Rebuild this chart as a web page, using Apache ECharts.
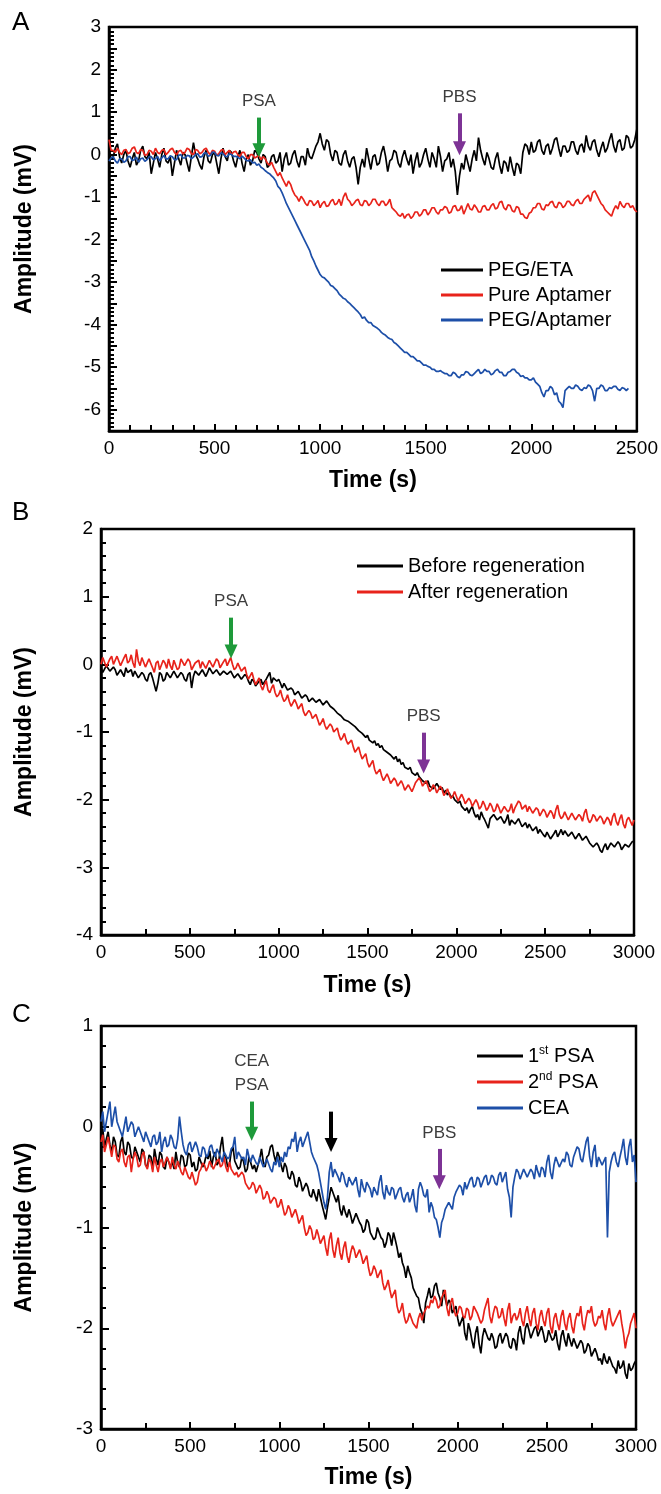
<!DOCTYPE html>
<html>
<head>
<meta charset="utf-8">
<script src="https://cdn.jsdelivr.net/npm/echarts@6/dist/echarts.min.js"></script>
<style>
  html, body { margin: 0; padding: 0; background: #fff; }
  #chart { width: 661px; height: 1494px; }
</style>
</head>
<body>
<div id="chart"></div>
<script>
// ---- Panel A: sensor response, 10 s sampling (one row = 200 s) ----
const stepA = 10;
const ampA_pegEta = [
  0.12, -0.1, -0.05, 0.15, 0.25, -0.05, -0.2, 0.0, 0.1, -0.15, -0.3, -0.1, 0.05, -0.25, -0.15, 0.1, 0.2, -0.05, -0.1, 0.05,
  -0.45, -0.2, 0.05, -0.1, -0.3, 0.0, 0.15, -0.15, -0.2, -0.05, -0.5, -0.2, 0.1, -0.1, -0.25, 0.05, 0.0, -0.2, -0.4, -0.05,
  0.28, 0.0, -0.1, -0.25, -0.35, -0.05, 0.1, -0.15, -0.2, 0.0, 0.05, -0.2, -0.45, -0.1, 0.15, -0.05, -0.15, 0.1, 0.05, -0.15,
  -0.3, -0.05, 0.1, -0.2, -0.4, -0.1, 0.0, -0.25, -0.15, 0.1, 0.05, -0.1, -0.2, 0.0, -0.05, -0.3, -0.25, -0.05, 0.0, -0.2,
  -0.15, 0.05, -0.4, -0.1, 0.05, -0.25, -0.2, 0.0, 0.1, -0.15, -0.3, -0.05, -0.05, -0.25, 0.15, -0.05, -0.1, 0.05, 0.2, 0.3,
  0.5, 0.25, 0.1, 0.35, 0.3, 0.0, -0.15, 0.1, 0.05, -0.2, -0.25, 0.0, 0.1, -0.15, -0.3, -0.1, -0.05, -0.3, -0.7, -0.3,
  -0.1, -0.3, 0.15, -0.1, -0.35, -0.05, 0.0, -0.25, -0.2, 0.05, 0.2, -0.05, -0.4, -0.15, -0.1, 0.1, 0.05, -0.2, -0.3, -0.05,
  0.1, -0.1, -0.25, 0.0, -0.45, -0.15, 0.05, -0.3, -0.2, 0.0, 0.15, -0.1, -0.3, 0.05, -0.1, -0.3, 0.2, -0.05, -0.4, -0.15,
  -0.1, 0.05, -0.3, -0.1, -0.4, -0.95, -0.5, -0.2, -0.35, 0.0, -0.2, -0.4, -0.1, 0.1, -0.15, 0.4, 0.1, -0.1, -0.25, 0.05,
  -0.1, -0.3, -0.35, -0.1, 0.05, -0.25, -0.45, -0.15, -0.2, -0.4, -0.05, -0.3, -0.5, -0.2, -0.25, -0.45, 0.05, 0.25, 0.2, 0.0,
  0.3, 0.05, 0.1, 0.3, 0.35, 0.1, 0.0, 0.2, 0.25, 0.0, 0.15, 0.35, 0.4, 0.15, -0.05, 0.2, 0.2, 0.05, 0.1, 0.3,
  0.3, 0.1, 0.0, 0.2, 0.25, 0.05, 0.45, 0.2, 0.1, 0.3, 0.35, 0.1, -0.05, 0.15, 0.3, 0.05, 0.15, 0.35, 0.5, 0.2,
  0.05, 0.3, 0.35, 0.1, 0.15, 0.45, 0.4, 0.15, 0.2, 0.35, 0.6
];
const ampA_pureApt = [
  0.35, 0.1, 0.1, 0.05, 0.15, 0.05, 0.0, 0.1, 0.12, 0.02, 0.05, 0.15, 0.18, 0.05, 0.02, 0.12, 0.1, -0.02, 0.0, 0.1,
  0.08, 0.0, 0.15, 0.05, 0.02, 0.1, 0.12, 0.0, 0.05, 0.12, 0.15, 0.05, 0.0, 0.08, 0.1, 0.02, 0.05, 0.15, 0.12, 0.02,
  0.0, 0.12, 0.1, 0.02, 0.05, 0.12, 0.15, 0.05, 0.0, 0.1, 0.08, -0.02, 0.02, 0.1, 0.12, 0.0, 0.05, 0.1, 0.0, 0.06,
  0.08, 0.0, -0.05, 0.05, 0.05, -0.05, -0.1, 0.0, 0.0, -0.08, -0.05, -0.02, -0.12, -0.05, -0.1, -0.2, -0.25, -0.18, -0.3, -0.4,
  -0.5, -0.42, -0.55, -0.65, -0.75, -0.62, -0.7, -0.85, -0.95, -1.0, -1.1, -0.98, -1.05, -1.15, -1.2, -1.08, -1.1, -1.2, -1.15, -1.08,
  -1.25, -1.15, -1.1, -1.22, -1.2, -1.1, -1.05, -1.18, -1.15, -1.05, -1.2, -1.0, -0.9, -1.05, -1.1, -1.2, -1.15, -1.08, -1.05, -1.18,
  -1.2, -1.08, -1.1, -1.2, -1.15, -1.05, -1.05, -1.15, -1.2, -1.1, -1.1, -1.2, -1.15, -1.05, -1.25, -1.3, -1.35, -1.42, -1.45, -1.38,
  -1.5, -1.42, -1.4, -1.5, -1.45, -1.35, -1.35, -1.45, -1.4, -1.3, -1.3, -1.42, -1.35, -1.25, -1.25, -1.35, -1.4, -1.3, -1.3, -1.22,
  -1.25, -1.38, -1.35, -1.22, -1.2, -1.32, -1.3, -1.2, -1.4, -1.28, -1.15, -1.28, -1.3, -1.18, -1.25, -1.35, -1.35, -1.22, -1.2, -1.3,
  -1.3, -1.2, -1.15, -1.28, -1.25, -1.12, -1.1, -1.25, -1.3, -1.18, -1.2, -1.32, -1.35, -1.22, -1.25, -1.4, -1.4, -1.48, -1.5, -1.38,
  -1.35, -1.25, -1.25, -1.15, -1.15, -1.28, -1.3, -1.18, -1.2, -1.12, -1.1, -1.22, -1.25, -1.12, -1.15, -1.25, -1.2, -1.1, -1.1, -1.18,
  -1.2, -1.1, -1.05, -1.15, -1.15, -1.05, -1.0, -0.95, -1.1, -0.9, -0.85, -0.95, -1.05, -1.15, -1.2, -1.3, -1.35, -1.4, -1.45, -1.3,
  -1.2, -1.28, -1.1, -1.2, -1.25, -1.15, -1.15, -1.25, -1.2, -1.3, -1.35
];
const ampA_pegApt = [
  -0.15, -0.08, -0.05, -0.15, -0.2, -0.1, -0.1, -0.18, -0.15, -0.05, -0.05, -0.14, -0.12, -0.06, -0.18, -0.1, -0.08, -0.16, -0.12, -0.05,
  -0.05, -0.12, -0.1, -0.04, -0.15, -0.08, -0.02, -0.1, -0.1, -0.03, -0.05, -0.12, -0.12, -0.02, 0.0, -0.08, -0.08, -0.02, -0.03, -0.1,
  -0.06, 0.0, 0.02, -0.06, -0.05, 0.03, 0.04, -0.04, -0.02, 0.06, 0.05, -0.02, -0.03, 0.04, 0.02, -0.04, -0.05, 0.02, 0.0, -0.04,
  -0.04, -0.06, -0.1, -0.04, -0.08, -0.14, -0.15, -0.12, -0.2, -0.18, -0.25, -0.22, -0.3, -0.33, -0.38, -0.42, -0.45, -0.5, -0.55, -0.62,
  -0.75, -0.8, -0.9, -1.02, -1.15, -1.25, -1.35, -1.45, -1.55, -1.65, -1.75, -1.85, -1.95, -2.05, -2.15, -2.25, -2.4, -2.5, -2.62, -2.72,
  -2.82, -2.88, -2.9, -2.95, -3.0, -3.08, -3.1, -3.15, -3.2, -3.28, -3.33, -3.38, -3.4, -3.46, -3.5, -3.55, -3.6, -3.65, -3.7, -3.76,
  -3.85, -3.82, -3.9, -3.95, -3.95, -4.02, -4.05, -4.08, -4.12, -4.18, -4.22, -4.25, -4.3, -4.33, -4.35, -4.42, -4.45, -4.5, -4.55, -4.6,
  -4.65, -4.65, -4.7, -4.75, -4.75, -4.8, -4.85, -4.85, -4.9, -4.95, -4.95, -4.98, -5.0, -5.05, -5.05, -5.1, -5.1, -5.08, -5.12, -5.15,
  -5.15, -5.2, -5.2, -5.12, -5.15, -5.22, -5.25, -5.18, -5.18, -5.1, -5.12, -5.18, -5.2, -5.15, -5.1, -5.05, -5.15, -5.12, -5.05, -5.1,
  -5.1, -5.18, -5.15, -5.08, -5.05, -5.12, -5.12, -5.2, -5.2, -5.12, -5.1, -5.05, -5.05, -5.12, -5.15, -5.22, -5.2, -5.25, -5.25, -5.3,
  -5.3, -5.25, -5.35, -5.4, -5.45, -5.6, -5.7, -5.55, -5.55, -5.45, -5.5, -5.65, -5.6, -5.8, -5.85, -5.95, -5.55, -5.5, -5.45, -5.5,
  -5.5, -5.42, -5.45, -5.52, -5.55, -5.48, -5.5, -5.42, -5.45, -5.55, -5.8, -5.5, -5.5, -5.42, -5.45, -5.55, -5.55, -5.48, -5.5, -5.45,
  -5.45, -5.52, -5.55, -5.48, -5.5, -5.55, -5.5
];

// ---- Panel B: before / after regeneration, 10 s sampling ----
const stepB = 10;
const ampB_before = [
  -0.05, -0.12, -0.1, -0.02, 0.0, -0.1, -0.12, -0.04, -0.08, -0.16, -0.15, -0.08, -0.1, -0.18, -0.05, -0.12, -0.14, -0.08, -0.18, -0.1,
  -0.1, -0.2, -0.22, -0.12, -0.15, -0.22, -0.25, -0.15, -0.12, -0.2, -0.2, -0.4, -0.28, -0.12, -0.15, -0.25, -0.22, -0.12, -0.12, -0.2,
  -0.18, -0.1, -0.1, -0.2, -0.2, -0.12, -0.15, -0.22, -0.25, -0.15, -0.12, -0.35, -0.18, -0.1, -0.08, -0.16, -0.15, -0.08, -0.1, -0.18,
  -0.12, -0.05, -0.06, -0.14, -0.15, -0.08, -0.1, -0.16, -0.18, -0.1, -0.08, -0.15, -0.15, -0.1, -0.12, -0.2, -0.2, -0.14, -0.15, -0.22,
  -0.22, -0.15, -0.18, -0.25, -0.3, -0.22, -0.25, -0.32, -0.32, -0.25, -0.22, -0.3, -0.3, -0.22, -0.2, -0.12, -0.28, -0.2, -0.18, -0.25,
  -0.22, -0.28, -0.35, -0.28, -0.3, -0.38, -0.4, -0.35, -0.38, -0.45, -0.45, -0.4, -0.42, -0.5, -0.5, -0.45, -0.48, -0.55, -0.55, -0.5,
  -0.5, -0.56, -0.58, -0.52, -0.52, -0.6, -0.6, -0.54, -0.55, -0.62, -0.62, -0.66, -0.68, -0.72, -0.72, -0.76, -0.78, -0.82, -0.8, -0.84,
  -0.82, -0.88, -0.86, -0.92, -0.9, -0.98, -0.96, -1.02, -1.0, -1.08, -1.05, -1.12, -1.1, -1.16, -1.13, -1.2, -1.17, -1.23, -1.2, -1.26,
  -1.25, -1.3, -1.28, -1.34, -1.32, -1.4, -1.36, -1.44, -1.4, -1.48, -1.45, -1.52, -1.5, -1.55, -1.52, -1.6, -1.58, -1.64, -1.6, -1.66,
  -1.65, -1.72, -1.7, -1.76, -1.72, -1.8, -1.78, -1.84, -1.8, -1.76, -1.78, -1.85, -1.82, -1.9, -1.86, -1.93, -1.9, -1.97, -1.94, -2.0,
  -1.98, -2.05, -2.02, -2.1, -2.08, -2.16, -2.12, -2.2, -2.14, -2.1, -2.2, -2.26, -2.22, -2.3, -2.18, -2.25, -2.3, -2.36, -2.42, -2.28,
  -2.28, -2.22, -2.2, -2.3, -2.32, -2.25, -2.25, -2.35, -2.3, -2.22, -2.38, -2.3, -2.28, -2.36, -2.35, -2.28, -2.3, -2.4, -2.4, -2.34,
  -2.42, -2.36, -2.38, -2.46, -2.45, -2.4, -2.5, -2.44, -2.42, -2.52, -2.55, -2.48, -2.48, -2.58, -2.6, -2.5, -2.45, -2.55, -2.5, -2.44,
  -2.52, -2.46, -2.45, -2.54, -2.55, -2.48, -2.5, -2.58, -2.58, -2.5, -2.52, -2.6, -2.6, -2.54, -2.55, -2.64, -2.62, -2.7, -2.7, -2.64,
  -2.68, -2.75, -2.78, -2.7, -2.65, -2.74, -2.72, -2.64, -2.62, -2.7, -2.7, -2.62, -2.66, -2.74, -2.74, -2.66, -2.64, -2.7, -2.68, -2.62,
  -2.62
];
const ampB_after = [
  0.0, 0.1, 0.08, -0.04, -0.05, 0.08, 0.12, 0.0, 0.02, 0.12, 0.1, -0.02, -0.02, 0.1, 0.15, 0.02, 0.05, 0.14, 0.02, -0.05,
  0.22, 0.05, -0.02, 0.1, 0.1, -0.04, -0.05, 0.08, 0.08, -0.05, -0.12, 0.02, 0.05, -0.08, -0.1, 0.06, 0.02, -0.06, 0.08, -0.02,
  -0.08, 0.06, 0.05, -0.08, -0.05, 0.08, 0.1, -0.02, -0.02, 0.08, 0.04, -0.08, -0.1, 0.02, 0.0, 0.06, -0.06, 0.04, 0.02, -0.06,
  -0.04, 0.06, 0.06, -0.04, -0.02, 0.08, 0.05, -0.05, -0.06, 0.04, 0.08, -0.02, -0.02, 0.1, 0.0, -0.08, -0.05, 0.02, -0.04, -0.1,
  -0.1, -0.04, -0.15, -0.22, -0.2, -0.12, -0.22, -0.3, -0.28, -0.2, -0.32, -0.38, -0.3, -0.24, -0.38, -0.42, -0.35, -0.3, -0.42, -0.48,
  -0.45, -0.38, -0.48, -0.55, -0.52, -0.45, -0.55, -0.62, -0.6, -0.52, -0.58, -0.66, -0.65, -0.58, -0.7, -0.76, -0.75, -0.68, -0.72, -0.8,
  -0.8, -0.74, -0.82, -0.9, -0.86, -0.8, -0.9, -0.96, -0.95, -0.88, -0.92, -1.0, -1.0, -0.94, -1.05, -1.12, -1.08, -1.02, -1.12, -1.18,
  -1.18, -1.12, -1.22, -1.3, -1.28, -1.22, -1.32, -1.4, -1.38, -1.32, -1.45, -1.52, -1.5, -1.42, -1.55, -1.62, -1.62, -1.55, -1.65, -1.72,
  -1.7, -1.62, -1.68, -1.76, -1.75, -1.68, -1.72, -1.8, -1.8, -1.72, -1.78, -1.86, -1.85, -1.78, -1.8, -1.88, -1.82, -1.75, -1.75, -1.68,
  -1.72, -1.8, -1.78, -1.72, -1.8, -1.88, -1.85, -1.78, -1.82, -1.9, -1.88, -1.8, -1.85, -1.94, -1.9, -1.84, -1.92, -1.98, -1.95, -1.88,
  -1.95, -2.02, -2.0, -1.92, -1.98, -2.06, -2.05, -1.98, -2.02, -2.1, -2.08, -2.0, -2.05, -2.14, -2.1, -2.02, -2.08, -2.16, -2.12, -2.05,
  -2.1, -2.18, -2.15, -2.06, -2.12, -2.2, -2.18, -2.1, -2.1, -2.18, -2.15, -2.06, -2.2, -2.12, -2.12, -2.02, -2.05, -2.14, -2.15, -2.08,
  -2.18, -2.1, -2.1, -2.2, -2.2, -2.12, -2.15, -2.24, -2.22, -2.14, -2.18, -2.26, -2.25, -2.16, -2.2, -2.28, -2.15, -2.08, -2.22, -2.28,
  -2.25, -2.18, -2.2, -2.3, -2.28, -2.2, -2.22, -2.3, -2.3, -2.22, -2.25, -2.32, -2.2, -2.14, -2.28, -2.34, -2.3, -2.22, -2.25, -2.32,
  -2.3, -2.24, -2.28, -2.36, -2.35, -2.26, -2.3, -2.38, -2.25, -2.2, -2.32, -2.38, -2.28, -2.22, -2.36, -2.42, -2.3, -2.26, -2.32, -2.38,
  -2.3
];

// ---- Panel C: selectivity test, 10 s sampling ----
const stepC = 10;
const ampC_psa1 = [
  -0.1, -0.02, -0.2, -0.12, -0.05, -0.18, -0.25, -0.1, -0.15, -0.28, -0.3, -0.15, -0.1, -0.25, -0.28, -0.15, -0.18, -0.3, -0.32, -0.2,
  -0.2, -0.3, -0.35, -0.22, -0.25, -0.38, -0.4, -0.28, -0.3, -0.42, -0.22, -0.32, -0.38, -0.25, -0.28, -0.4, -0.42, -0.3, -0.3, -0.4,
  -0.35, -0.42, -0.25, -0.36, -0.4, -0.28, -0.3, -0.4, -0.38, -0.26, -0.28, -0.4, -0.35, -0.44, -0.42, -0.3, -0.3, -0.4, -0.36, -0.28,
  -0.32, -0.24, -0.4, -0.3, -0.25, -0.38, -0.35, -0.2, -0.1, -0.28, -0.3, -0.4, -0.38, -0.25, -0.2, -0.34, -0.35, -0.42, -0.4, -0.3,
  -0.35, -0.45, -0.42, -0.3, -0.3, -0.42, -0.38, -0.45, -0.45, -0.32, -0.22, -0.35, -0.4, -0.3, -0.28, -0.2, -0.18, -0.28, -0.35, -0.25,
  -0.3, -0.38, -0.45, -0.36, -0.4, -0.5, -0.52, -0.44, -0.48, -0.58, -0.6, -0.5, -0.55, -0.64, -0.65, -0.56, -0.6, -0.68, -0.7, -0.62,
  -0.68, -0.74, -0.62, -0.7, -0.78, -0.85, -0.92, -0.8, -0.7, -0.6, -0.6, -0.7, -0.75, -0.68, -0.82, -0.88, -0.78, -0.85, -0.9, -0.82,
  -0.88, -0.96, -0.95, -0.86, -0.85, -0.95, -0.98, -1.05, -1.02, -0.92, -0.95, -1.05, -1.05, -1.12, -1.1, -1.0, -1.0, -1.1, -1.12, -1.2,
  -1.15, -1.05, -1.08, -1.18, -1.05, -1.12, -1.2, -1.3, -1.25, -1.35, -1.4, -1.5, -1.38, -1.45, -1.5, -1.6, -1.6, -1.68, -1.7, -1.8,
  -1.85, -1.95, -1.75, -1.68, -1.6, -1.7, -1.68, -1.58, -1.55, -1.65, -1.7, -1.78, -1.62, -1.7, -1.78, -1.72, -1.75, -1.85, -1.85, -1.78,
  -1.9, -1.98, -1.98, -1.88, -2.05, -2.12, -1.95, -2.02, -2.12, -2.2, -2.05, -1.98, -2.15, -2.25, -2.08, -2.0, -2.0, -2.1, -2.12, -2.05,
  -2.1, -2.2, -2.18, -2.08, -2.05, -2.15, -2.15, -2.05, -2.08, -2.18, -2.2, -2.1, -2.12, -2.22, -2.05, -1.98, -2.1, -2.16, -2.0, -1.95,
  -2.02, -2.1, -2.1, -2.0, -1.98, -2.08, -2.08, -1.98, -2.05, -2.14, -2.12, -2.02, -2.02, -2.12, -2.1, -2.02, -2.15, -2.22, -2.08, -2.02,
  -2.12, -2.18, -2.05, -2.12, -2.18, -2.1, -2.1, -2.2, -2.2, -2.12, -2.15, -2.25, -2.22, -2.15, -2.18, -2.28, -2.28, -2.2, -2.25, -2.32,
  -2.3, -2.36, -2.25, -2.32, -2.35, -2.28, -2.28, -2.38, -2.4, -2.45, -2.32, -2.4, -2.38, -2.32, -2.45, -2.5, -2.35, -2.42, -2.4, -2.35,
  -2.32
];
const ampC_psa2 = [
  -0.15, -0.08, -0.25, -0.18, -0.1, -0.2, -0.3, -0.18, -0.2, -0.32, -0.35, -0.25, -0.22, -0.35, -0.4, -0.3, -0.28, -0.45, -0.32, -0.25,
  -0.3, -0.4, -0.38, -0.28, -0.25, -0.38, -0.42, -0.32, -0.35, -0.45, -0.3, -0.38, -0.45, -0.35, -0.32, -0.4, -0.4, -0.3, -0.35, -0.42,
  -0.3, -0.38, -0.42, -0.34, -0.35, -0.45, -0.48, -0.4, -0.4, -0.5, -0.52, -0.45, -0.45, -0.58, -0.55, -0.45, -0.42, -0.36, -0.38, -0.44,
  -0.4, -0.34, -0.35, -0.42, -0.42, -0.34, -0.32, -0.4, -0.38, -0.3, -0.4, -0.45, -0.35, -0.42, -0.42, -0.48, -0.45, -0.5, -0.5, -0.45,
  -0.48, -0.56, -0.55, -0.62, -0.6, -0.55, -0.58, -0.66, -0.65, -0.58, -0.62, -0.72, -0.7, -0.64, -0.68, -0.76, -0.75, -0.7, -0.72, -0.8,
  -0.78, -0.72, -0.8, -0.88, -0.85, -0.78, -0.82, -0.9, -0.9, -0.82, -0.88, -0.96, -0.95, -0.88, -1.0, -1.08, -1.05, -0.98, -1.02, -1.12,
  -1.1, -1.02, -1.08, -1.16, -1.15, -1.08, -1.2, -1.28, -1.12, -1.05, -1.22, -1.3, -1.18, -1.1, -1.25, -1.32, -1.2, -1.14, -1.28, -1.35,
  -1.25, -1.18, -1.22, -1.3, -1.3, -1.22, -1.28, -1.36, -1.35, -1.28, -1.4, -1.48, -1.45, -1.38, -1.42, -1.5, -1.5, -1.42, -1.55, -1.62,
  -1.58, -1.52, -1.62, -1.7, -1.7, -1.62, -1.78, -1.85, -1.82, -1.75, -1.88, -1.95, -1.92, -1.85, -1.85, -1.95, -1.95, -2.0, -1.9, -1.85,
  -1.92, -1.85, -1.85, -1.78, -1.8, -1.72, -1.75, -1.68, -1.72, -1.8, -1.78, -1.7, -1.7, -1.62, -1.8, -1.88, -1.75, -1.7, -1.82, -1.88,
  -1.85, -1.78, -1.8, -1.88, -1.9, -1.8, -1.82, -1.92, -1.88, -1.78, -1.78, -1.85, -1.85, -1.95, -1.92, -1.82, -1.82, -1.7, -1.88, -1.95,
  -1.85, -1.78, -1.8, -1.9, -1.88, -1.8, -1.9, -1.98, -1.82, -1.75, -1.95, -1.88, -1.85, -1.92, -1.88, -1.8, -1.92, -1.98, -1.85, -1.78,
  -1.9, -1.98, -1.85, -1.8, -1.95, -2.02, -1.88, -1.82, -1.92, -1.98, -1.85, -1.8, -1.98, -2.05, -1.9, -1.85, -1.95, -2.02, -1.88, -1.82,
  -1.95, -2.02, -1.9, -1.85, -1.98, -2.05, -1.92, -1.85, -1.88, -1.78, -1.95, -2.02, -1.9, -1.82, -1.85, -1.78, -1.92, -1.98, -1.95, -1.88,
  -1.9, -1.82, -1.95, -2.02, -1.88, -1.8, -1.92, -1.98, -1.98, -1.9, -1.9, -1.82, -1.95, -2.05, -2.2, -2.1, -2.05, -1.95, -1.9, -1.85,
  -2.0
];
const ampC_cea = [
  0.05, 0.15, -0.05, 0.05, 0.15, 0.25, 0.0, 0.1, 0.2, 0.05, 0.05, -0.05, -0.1, 0.0, 0.1, -0.05, -0.05, 0.05, 0.02, -0.1,
  -0.1, 0.0, 0.0, -0.1, -0.15, -0.05, -0.05, -0.15, -0.2, -0.1, -0.08, -0.18, -0.15, -0.05, -0.25, -0.15, -0.1, -0.2, -0.18, -0.08,
  -0.12, -0.2, -0.22, -0.12, 0.1, -0.05, -0.18, -0.25, -0.28, -0.18, -0.15, -0.25, -0.25, -0.15, -0.2, -0.28, -0.3, -0.2, -0.22, -0.3,
  -0.28, -0.2, -0.18, -0.26, -0.3, -0.22, -0.22, -0.3, -0.35, -0.25, -0.25, -0.32, -0.3, -0.22, -0.2, -0.1, -0.32, -0.25, -0.25, -0.32,
  -0.3, -0.38, -0.22, -0.3, -0.35, -0.28, -0.28, -0.36, -0.38, -0.3, -0.3, -0.4, -0.4, -0.32, -0.32, -0.42, -0.45, -0.35, -0.38, -0.3,
  -0.4, -0.3, -0.35, -0.25, -0.3, -0.2, -0.22, -0.12, -0.15, -0.05, -0.25, -0.15, -0.1, -0.2, -0.2, -0.1, -0.05, -0.15, -0.25, -0.3,
  -0.3, -0.38, -0.45, -0.55, -0.65, -0.75, -0.82, -0.7, -0.45, -0.35, -0.5, -0.42, -0.42, -0.5, -0.55, -0.45, -0.48, -0.56, -0.6, -0.5,
  -0.5, -0.58, -0.58, -0.5, -0.62, -0.7, -0.52, -0.6, -0.65, -0.55, -0.55, -0.62, -0.7, -0.6, -0.6, -0.68, -0.55, -0.48, -0.65, -0.72,
  -0.58, -0.65, -0.68, -0.6, -0.62, -0.72, -0.72, -0.62, -0.6, -0.7, -0.75, -0.68, -0.65, -0.75, -0.7, -0.62, -0.78, -0.85, -0.62, -0.55,
  -0.6, -0.68, -0.7, -0.62, -0.85, -0.75, -0.8, -0.9, -0.92, -1.0, -1.1, -0.95, -0.9, -0.82, -0.82, -0.75, -0.75, -0.82, -0.7, -0.65,
  -0.65, -0.58, -0.6, -0.68, -0.55, -0.62, -0.62, -0.52, -0.5, -0.6, -0.58, -0.5, -0.52, -0.6, -0.6, -0.5, -0.48, -0.58, -0.55, -0.48,
  -0.5, -0.56, -0.58, -0.48, -0.45, -0.55, -0.55, -0.45, -0.62, -0.7, -0.9, -0.6, -0.5, -0.42, -0.45, -0.52, -0.52, -0.42, -0.42, -0.5,
  -0.5, -0.42, -0.45, -0.52, -0.38, -0.45, -0.5, -0.4, -0.42, -0.5, -0.35, -0.28, -0.45, -0.52, -0.38, -0.3, -0.3, -0.4, -0.4, -0.32,
  -0.35, -0.25, -0.28, -0.38, -0.4, -0.3, -0.3, -0.2, -0.22, -0.32, -0.35, -0.25, -0.15, -0.1, -0.3, -0.4, -0.25, -0.18, -0.4, -0.3,
  -0.3, -0.38, -0.38, -0.3, -1.1, -0.45, -0.35, -0.28, -0.25, -0.35, -0.4, -0.3, -0.22, -0.12, -0.3, -0.38, -0.2, -0.12, -0.35, -0.28,
  -0.55
];

// Axis ranges
const xMaxA = 2500;
const xMaxBC = 3000;
const yRangeA = [-6.5, 3];
const yRangeB = [-4, 2];
const yRangeC = [-3, 1];

const FONT = '"Liberation Sans", Arial, Helvetica, sans-serif';
const BLACK = '#000000', RED = '#e8231b', BLUE = '#1d4fa8';
const GREEN = '#1e9a3a', PURPLE = '#7d3395';

function toPairs(values, step) {
  return values.map((v, i) => [i * step, v]);
}

const grids = [
  { left: 109, top: 27, width: 528, height: 404 },
  { left: 101, top: 529, width: 533, height: 406 },
  { left: 101, top: 1026, width: 535, height: 403 }
];

function xAxisFor(gridIndex, max, minorSplit, nameGap) {
  return {
    gridIndex, type: 'value', min: 0, max, interval: 500,
    name: 'Time (s)', nameLocation: 'middle', nameGap,
    nameTextStyle: { fontFamily: FONT, fontWeight: 'bold', fontSize: 23, color: '#000' },
    axisLine: { show: true, onZero: false, lineStyle: { color: '#000', width: 2.5 } },
    axisTick: { show: true, inside: true, length: 7, lineStyle: { color: '#000', width: 2 } },
    minorTick: { show: true, splitNumber: minorSplit, length: 6, lineStyle: { color: '#000', width: 2 } },
    axisLabel: { fontFamily: FONT, fontSize: 19, color: '#000', margin: 8, formatter: v => String(v) },
    splitLine: { show: false }
  };
}

function yAxisFor(gridIndex, range, interval, minorSplit, nameGap) {
  return {
    gridIndex, type: 'value', min: range[0], max: range[1], interval,
    name: 'Amplitude (mV)', nameLocation: 'middle', nameGap,
    nameTextStyle: { fontFamily: FONT, fontWeight: 'bold', fontSize: 23, color: '#000' },
    axisLine: { show: true, onZero: false, lineStyle: { color: '#000', width: 2.5 } },
    axisTick: { show: true, inside: true, length: 8, lineStyle: { color: '#000', width: 2 } },
    minorTick: { show: true, splitNumber: minorSplit, length: 5, lineStyle: { color: '#000', width: 2 } },
    axisLabel: {
      fontFamily: FONT, fontSize: 19, color: '#000', margin: 8,
      formatter: v => (Number.isInteger(v) ? String(v) : '')
    },
    splitLine: { show: false }
  };
}

function arrow(x, yTop, yTip, color, text) {
  return [
    {
      coord: [x, yTop],
      lineStyle: { color, width: 4, type: 'solid' },
      label: {
        show: !!text, position: 'start', formatter: text || '',
        color: '#3c3c3c', fontFamily: FONT, fontSize: 17, lineHeight: 24, distance: 4
      }
    },
    { coord: [x, yTip] }
  ];
}

function markLines(items) {
  return {
    silent: true, animation: false,
    symbol: ['none', 'triangle'], symbolSize: [13, 14],
    data: items
  };
}

function lineSeries(name, data, color, xi, extra) {
  return Object.assign({
    name, type: 'line', xAxisIndex: xi, yAxisIndex: xi,
    data, showSymbol: false, symbol: 'none',
    lineStyle: { color, width: 1.7 }, itemStyle: { color },
    animation: false
  }, extra || {});
}

const legendBase = {
  orient: 'vertical', icon: 'rect', itemWidth: 42, itemHeight: 3,
  selectedMode: false,
  textStyle: { fontFamily: FONT, fontSize: 20, color: '#000', lineHeight: 22 }
};

const letterStyle = { fontFamily: FONT, fontSize: 26, fontWeight: 'normal', color: '#000' };

const option = {
  backgroundColor: '#ffffff',
  animation: false,
  title: [
    { text: 'A', left: 12, top: 10, padding: 0, textStyle: letterStyle },
    { text: 'B', left: 12, top: 500, padding: 0, textStyle: letterStyle },
    { text: 'C', left: 12, top: 1002, padding: 0, textStyle: letterStyle }
  ],
  grid: grids.map(g => Object.assign({ show: true, borderColor: '#000', borderWidth: 2.5, backgroundColor: '#fff' }, g)),
  xAxis: [
    xAxisFor(0, xMaxA, 5, 38),
    xAxisFor(1, xMaxBC, 2, 39),
    xAxisFor(2, xMaxBC, 2, 37)
  ],
  yAxis: [
    yAxisFor(0, yRangeA, 0.5, 5, 73),
    yAxisFor(1, yRangeB, 1, 5, 65),
    yAxisFor(2, yRangeC, 1, 5, 65)
  ],
  legend: [
    Object.assign({}, legendBase, {
      left: 436, top: 254, itemGap: 3,
      data: ['PEG/ETA', 'Pure Aptamer', 'PEG/Aptamer']
    }),
    Object.assign({}, legendBase, {
      left: 352, top: 550, itemGap: 4, itemWidth: 46,
      data: ['Before regeneration', 'After regeneration']
    }),
    Object.assign({}, legendBase, {
      left: 472, top: 1040, itemGap: 4, itemWidth: 46,
      data: ['1st PSA', '2nd PSA', 'CEA'],
      formatter: name => name.replace(/^(\d)(st|nd)/, '$1{sup|$2}'),
      textStyle: Object.assign({}, legendBase.textStyle, {
        rich: { sup: { fontFamily: FONT, fontSize: 12, color: '#000', verticalAlign: 'top', lineHeight: 14 } }
      })
    })
  ],
  series: [
    lineSeries('PEG/ETA', toPairs(ampA_pegEta, stepA), BLACK, 0, {
      markLine: markLines([
        arrow(710, 0.87, 0.1, GREEN, 'PSA'),
        arrow(1660, 0.97, 0.15, PURPLE, 'PBS')
      ])
    }),
    lineSeries('Pure Aptamer', toPairs(ampA_pureApt, stepA), RED, 0),
    lineSeries('PEG/Aptamer', toPairs(ampA_pegApt, stepA), BLUE, 0),

    lineSeries('Before regeneration', toPairs(ampB_before, stepB), BLACK, 1, {
      markLine: markLines([
        arrow(732, 0.69, 0.19, GREEN, 'PSA'),
        arrow(1816, -1.01, -1.51, PURPLE, 'PBS')
      ])
    }),
    lineSeries('After regeneration', toPairs(ampB_after, stepB), RED, 1),

    lineSeries('1st PSA', toPairs(ampC_psa1, stepC), BLACK, 2, {
      markLine: markLines([
        arrow(845, 0.25, -0.07, GREEN, 'CEA\nPSA'),
        arrow(1290, 0.15, -0.18, BLACK, ''),
        arrow(1897, -0.22, -0.55, PURPLE, 'PBS')
      ])
    }),
    lineSeries('2nd PSA', toPairs(ampC_psa2, stepC), RED, 2),
    lineSeries('CEA', toPairs(ampC_cea, stepC), BLUE, 2)
  ]
};

const chart = echarts.init(document.getElementById('chart'), null, { renderer: 'canvas' });
chart.setOption(option);
</script>
</body>
</html>
